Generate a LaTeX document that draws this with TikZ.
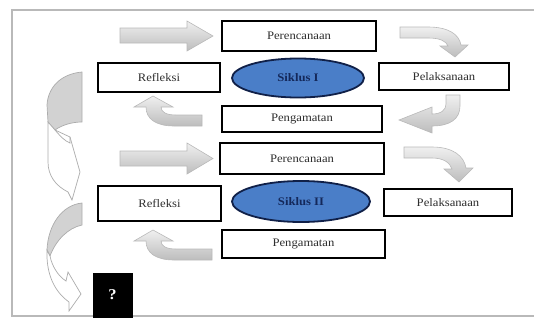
\documentclass[tikz,border=0pt]{standalone}
\usepackage{fontspec}
\setmainfont{Liberation Serif}[FakeStretch=1.1]
\usetikzlibrary{shapes.geometric}
\definecolor{ellfill}{RGB}{74,126,200}
\definecolor{elldraw}{RGB}{16,32,72}
\definecolor{navy}{RGB}{20,40,90}
\begin{document}
\begin{tikzpicture}[x=1pt,y=-1pt,
  box/.style={draw=black,line width=1.8pt,fill=white,inner sep=0pt,font=\fontsize{11.5}{13}\selectfont,text=black!82},
  cyc/.style={ellipse,draw=elldraw,line width=1.8pt,fill=ellfill,inner sep=0pt,font=\bfseries\fontsize{11.5}{13}\selectfont,text=navy},
  blk/.style={draw=gray!55,line width=0.6pt,top color=gray!12,bottom color=gray!52},
  backface/.style={draw=gray!65,line width=0.7pt,fill=gray!35},
  frontface/.style={draw=gray!65,line width=0.7pt,fill=white},
  qbox/.style={fill=black,draw=black,inner sep=0pt,text=white,font=\bfseries\fontsize{15}{17}\selectfont}
]
\useasboundingbox (0,0) rectangle (534,324);
% frame
\draw[gray!55,line width=1.2pt] (534,10) -- (12,10) -- (12,316) -- (534,316);

% nodes
\node[box,minimum width=154pt,minimum height=30pt] (p1) at (299,36) {Perencanaan};
\node[box,minimum width=122pt,minimum height=29pt] (r1) at (159,77.5) {Refleksi};
\node[cyc,minimum width=132pt,minimum height=39pt] (s1) at (298,78) {Siklus I};
\node[box,minimum width=130pt,minimum height=27pt] (l1) at (444,76.5) {Pelaksanaan};
\node[box,minimum width=160pt,minimum height=26pt] (g1) at (302,119) {Pengamatan};
\node[box,minimum width=164pt,minimum height=31pt] (p2) at (302,158.5) {Perencanaan};
\node[box,minimum width=123pt,minimum height=35pt] (r2) at (159.5,203.5) {Refleksi};
\node[cyc,minimum width=138pt,minimum height=41pt] (s2) at (301,201.5) {Siklus II};
\node[box,minimum width=128pt,minimum height=27pt] (l2) at (448,202.5) {Pelaksanaan};
\node[box,minimum width=163pt,minimum height=28pt] (g2) at (303.5,244) {Pengamatan};
\node[qbox,minimum width=39pt,minimum height=44pt] (q) at (112.5,295) {?};

% straight block arrows
\draw[blk] (120,28) -- (187,28) -- (187,21) -- (213,36) -- (187,51) -- (187,43) -- (120,43) -- cycle;
\draw[blk] (120,151) -- (187,151) -- (187,143) -- (213,158.5) -- (187,174) -- (187,166) -- (120,166) -- cycle;

% curved block arrows, right side
\draw[blk] (400,27) -- (428,27) .. controls (448,27) and (459,34) .. (461,45) -- (468,45) -- (455,57) -- (440,46) -- (448,46) .. controls (446,41) and (440,38) .. (428,38) -- (400,38) -- cycle;
\draw[blk] (460,95) -- (460,106) .. controls (460,119) and (450,126) .. (432,126) -- (432,133) -- (399,120) -- (432,107) -- (432,114) .. controls (441,114) and (446,110) .. (446,104) -- (446,95) -- cycle;
\draw[blk] (404,147) -- (432,147) .. controls (453,147) and (464,156) .. (466,168) -- (473,168) -- (459,182) -- (444,169) -- (452,169) .. controls (450,163) and (444,158) .. (432,158) -- (404,158) -- cycle;

% bent-up block arrows
\draw[blk] (202,115) -- (176,115) .. controls (166,115) and (161,112) .. (161,107) -- (173,107) -- (153,96) -- (134,107) -- (146,107) .. controls (146,119) and (156,126) .. (174,126) -- (202,126) -- cycle;
\draw[blk] (212,249) -- (176,249) .. controls (166,249) and (161,246) .. (161,241) -- (173,241) -- (153,230) -- (134,241) -- (146,241) .. controls (146,253) and (156,260) .. (174,260) -- (212,260) -- cycle;

% left curved arrows
\draw[backface] (82,72) .. controls (60,74) and (48,88) .. (47,105) -- (48,122) -- (55,130) .. controls (62,125) and (72,122) .. (82,122) -- cycle;
\draw[frontface] (48,122) -- (55,130) -- (70,137) -- (80,172) -- (72,200) -- (68,192) .. controls (56,186) and (48,176) .. (48,162) -- cycle;
\draw[gray!65,line width=0.7pt] (55,130) .. controls (61,137) and (65,141) .. (70,143) -- (70,137);

\draw[backface] (82,203) .. controls (62,205) and (48,225) .. (47,250) -- (50,256) .. controls (56,240) and (68,228) .. (82,225) -- cycle;
\draw[frontface] (47,250) .. controls (46,275) and (55,292) .. (69,302) -- (69,311) -- (81,294) -- (68,272) -- (66,281) .. controls (58,276) and (52,266) .. (50,256) -- cycle;
\end{tikzpicture}
\end{document}
